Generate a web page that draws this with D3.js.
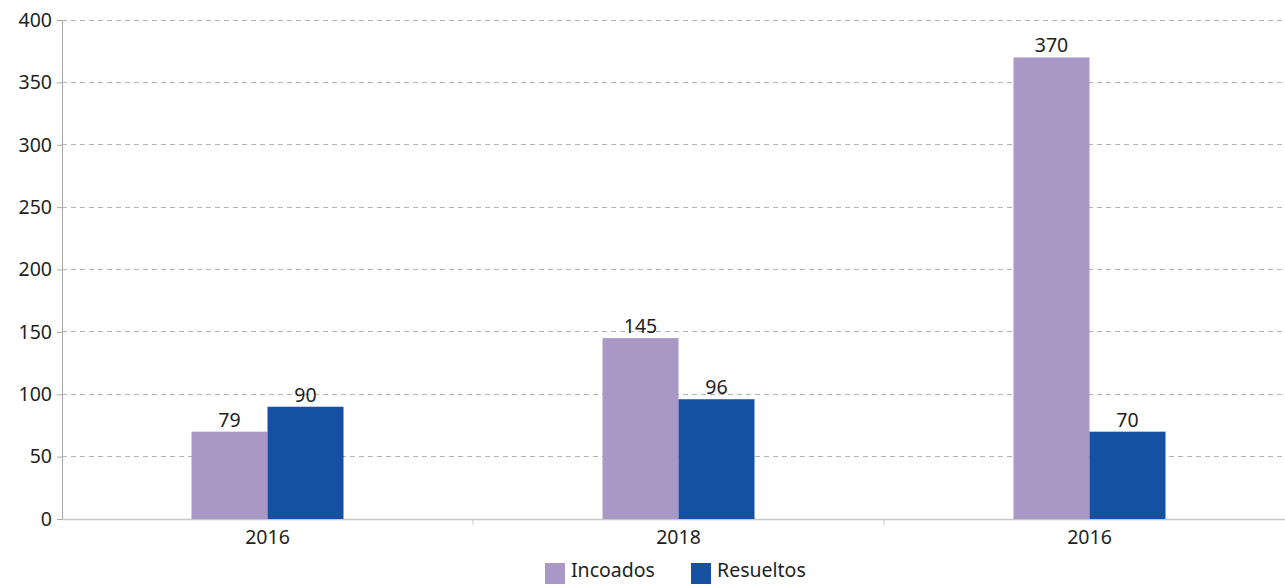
<!DOCTYPE html>
<html><head><meta charset="utf-8">
<script src="https://cdn.jsdelivr.net/npm/d3@7"></script>
<style>body{margin:0;background:#fff}svg{display:block}text{font-family:"Noto Sans","Open Sans",sans-serif;fill:#231f20}</style>
</head><body><svg id="c" width="1285" height="584"></svg>
<script>
const categories = ["2016", "2018", "2016"];
const seriesNames = ["Incoados", "Resueltos"];
const incoados = [70, 145, 370];
const resueltos = [90, 96, 70];
const incoadosLabels = ["79", "145", "370"];
const resueltosLabels = ["90", "96", "70"];
const yTicks = [0, 50, 100, 150, 200, 250, 300, 350, 400];
const colors = ["#a997c6", "#1550a3"];

const svg = d3.select("#c");
const x0 = 62, x1 = 1295, yTop = 20, yBot = 519;
const idx = categories.map((d, i) => i);
const x = d3.scaleBand().domain(idx).range([x0, x1]);
const y = d3.scaleLinear().domain([0, 400]).range([yBot, yTop]);
const barW = 76;
const fs = "19.5px";

// gridlines
svg.append("g").selectAll("line").data(yTicks.filter(t => t > 0)).join("line")
  .attr("x1", x0).attr("x2", 1285).attr("y1", d => y(d)).attr("y2", d => y(d))
  .attr("stroke", "#b3b3b3").attr("stroke-width", 1).attr("stroke-dasharray", "5,4")
  .attr("shape-rendering", "crispEdges");

// y axis
const ya = svg.append("g").attr("transform", `translate(${x0},0)`)
  .call(d3.axisLeft(y).tickValues(yTicks).tickSize(5).tickPadding(5));
ya.select(".domain").attr("stroke", "#a6a6a6");
ya.selectAll(".tick line").attr("stroke", "#a6a6a6");
ya.selectAll("text").style("font-size", fs).attr("fill", "#231f20");

// x axis
const xa = svg.append("g").attr("transform", `translate(0,${yBot})`)
  .call(d3.axisBottom(x).tickFormat(i => categories[i]).tickSize(0).tickPadding(11));
xa.select(".domain").attr("stroke", "#c8c8c8").attr("stroke-width", 1.5);
xa.selectAll("text").style("font-size", fs).attr("fill", "#231f20");
// boundary ticks
svg.append("g").selectAll("line").data(idx.slice(1)).join("line")
  .attr("x1", i => x(i)).attr("x2", i => x(i)).attr("y1", yBot).attr("y2", yBot + 6)
  .attr("stroke", "#c8c8c8");

const series = [incoados, resueltos];
const labels = [incoadosLabels, resueltosLabels];
series.forEach((vals, s) => {
  const g = svg.append("g");
  g.selectAll("rect").data(vals).join("rect")
    .attr("x", (d, i) => x(i) + x.bandwidth() / 2 - barW + s * barW)
    .attr("width", barW)
    .attr("y", d => y(d)).attr("height", d => yBot - y(d))
    .attr("fill", colors[s]);
  g.selectAll("text").data(vals).join("text")
    .attr("x", (d, i) => x(i) + x.bandwidth() / 2 - barW / 2 + s * barW)
    .attr("y", d => y(d) - 5)
    .attr("text-anchor", "middle").style("font-size", fs)
    .text((d, i) => labels[s][i]);
});

// legend
const leg = svg.append("g");
const legX = [545, 691];
seriesNames.forEach((n, i) => {
  leg.append("rect").attr("x", legX[i]).attr("y", 563).attr("width", 20).attr("height", 21).attr("fill", colors[i]);
  leg.append("text").attr("x", legX[i] + 26).attr("y", 577).style("font-size", "19.5px").text(n);
});
</script></body></html>
